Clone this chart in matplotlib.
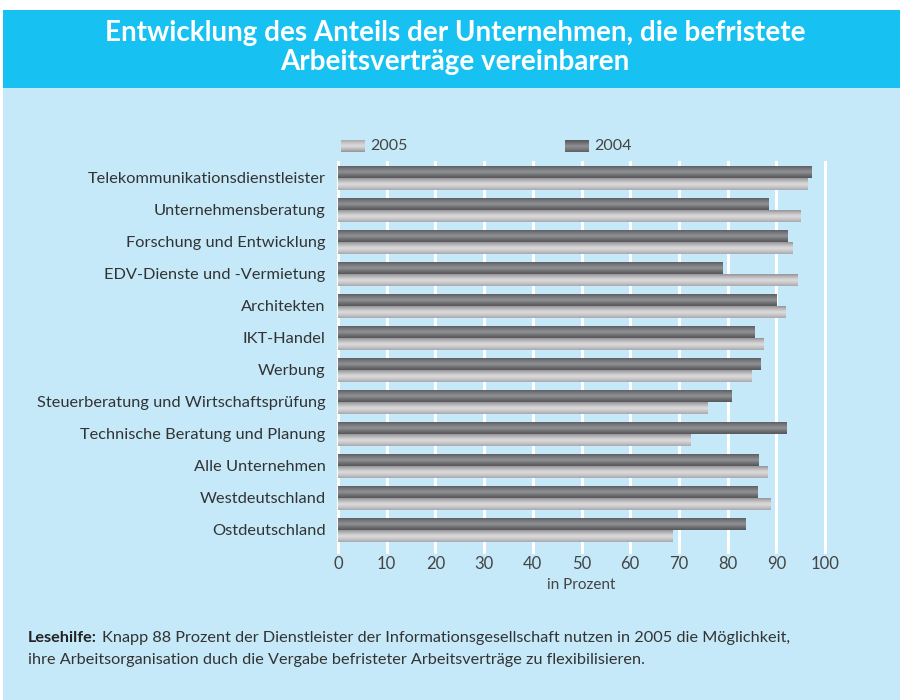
import matplotlib
matplotlib.use("Agg")
import matplotlib.pyplot as plt
import numpy as np
from matplotlib.patches import Rectangle
from matplotlib.colors import LinearSegmentedColormap

plt.rcParams['font.family'] = ['Lato', 'DejaVu Sans']

categories = ["Telekommunikationsdienstleister", "Unternehmensberatung",
              "Forschung und Entwicklung", "EDV-Dienste und -Vermietung",
              "Architekten", "IKT-Handel", "Werbung",
              "Steuerberatung und Wirtschaftsprüfung",
              "Technische Beratung und Planung", "Alle Unternehmen",
              "Westdeutschland", "Ostdeutschland"]
v2004 = [97.3, 88.4, 92.4, 78.9, 90.1, 85.6, 86.7, 80.9, 92.1, 86.4, 86.2, 83.6]
v2005 = [96.5, 94.9, 93.4, 94.3, 91.8, 87.3, 85.0, 75.8, 72.3, 88.1, 88.9, 68.6]
xticks = [0, 10, 20, 30, 40, 50, 60, 70, 80, 90, 100]

bg = "#c5e9f8"
head = "#17c1f1"

fig = plt.figure(figsize=(9, 7), dpi=100)
fig.patch.set_facecolor("white")
fig.add_artist(Rectangle((3/900, 0), 897/900, 1 - 88/700, transform=fig.transFigure,
                         facecolor=bg, edgecolor="none", zorder=0))
fig.add_artist(Rectangle((3/900, 1 - 88/700), 897/900, 78/700, transform=fig.transFigure,
                         facecolor=head, edgecolor="none", zorder=0))
fig.text(455/900, 1 - 33/700, "Entwicklung des Anteils der Unternehmen, die befristete",
         ha="center", va="center", color="white", fontsize=20, fontweight="bold")
fig.text(455/900, 1 - 62/700, "Arbeitsverträge vereinbaren",
         ha="center", va="center", color="white", fontsize=20, fontweight="bold")

ax = fig.add_axes([338/900, 1 - 552/700, (825 - 338)/900, (552 - 162)/700])
ax.patch.set_alpha(0)
for s in ax.spines.values():
    s.set_visible(False)

n = len(categories)
y = np.arange(n)
h = 0.375

for xv in xticks:
    ax.axvline(xv, color="white", lw=2.2, zorder=1, clip_on=False)

dark_cmap = LinearSegmentedColormap.from_list("d", ["#55565a", "#707175", "#909195", "#7a7b7f", "#5e5f63"])
light_cmap = LinearSegmentedColormap.from_list("l", ["#a9a9ab", "#c8c8ca", "#dcdcdd", "#bdbdbf", "#959597"])
grad = np.linspace(0, 1, 64).reshape(-1, 1)

bars04 = ax.barh(y - h/2, v2004, height=h, color="none", edgecolor="none", zorder=2)
bars05 = ax.barh(y + h/2, v2005, height=h, color="none", edgecolor="none", zorder=2)
for bars, cmap in ((bars04, dark_cmap), (bars05, light_cmap)):
    for b in bars:
        x0, y0, w, hh = b.get_x(), b.get_y(), b.get_width(), b.get_height()
        ax.imshow(grad, cmap=cmap, aspect="auto", extent=(x0, x0 + w, y0, y0 + hh),
                  origin="upper", zorder=3, interpolation="bilinear")
ax.set_xlim(0, 100)
ax.set_ylim(n - 1 + 0.69, -0.5)

ax.set_yticks(y)
ax.set_yticklabels(categories, fontsize=11.8, color="#333333")
ax.tick_params(axis="y", length=0, pad=9)
ax.set_xticks(xticks)
ax.set_xticklabels([str(t) for t in xticks], fontsize=12, color="#444444")
ax.tick_params(axis="x", length=0, pad=3)
ax.set_xlabel("in Prozent", fontsize=11, color="#444444", labelpad=4)

for (x0, cmap, label) in ((341, light_cmap, "2005"), (565, dark_cmap, "2004")):
    lax = fig.add_axes([x0/900, 1 - 152/700, 24/900, 12/700])
    lax.imshow(grad, cmap=cmap, aspect="auto", interpolation="bilinear")
    lax.axis("off")
    fig.text((x0 + 29)/900, 1 - 146/700, label, fontsize=11.5, color="#444444", va="center")

t1 = fig.text(28/900, 1 - 638/700, "Lesehilfe:", fontsize=11.7, fontweight="bold",
              color="#222222", va="center")
fig.canvas.draw()
bb = t1.get_window_extent(renderer=fig.canvas.get_renderer())
fig.text((bb.x1 + 5)/900, 1 - 638/700,
         "Knapp 88 Prozent der Dienstleister der Informationsgesellschaft nutzen in 2005 die Möglichkeit,",
         fontsize=11.7, color="#333333", va="center")
fig.text(28/900, 1 - 660/700, "ihre Arbeitsorganisation duch die Vergabe befristeter Arbeitsverträge zu flexibilisieren.",
         fontsize=11.7, color="#333333", va="center")

fig.savefig("out.png", dpi=100, facecolor="white")
